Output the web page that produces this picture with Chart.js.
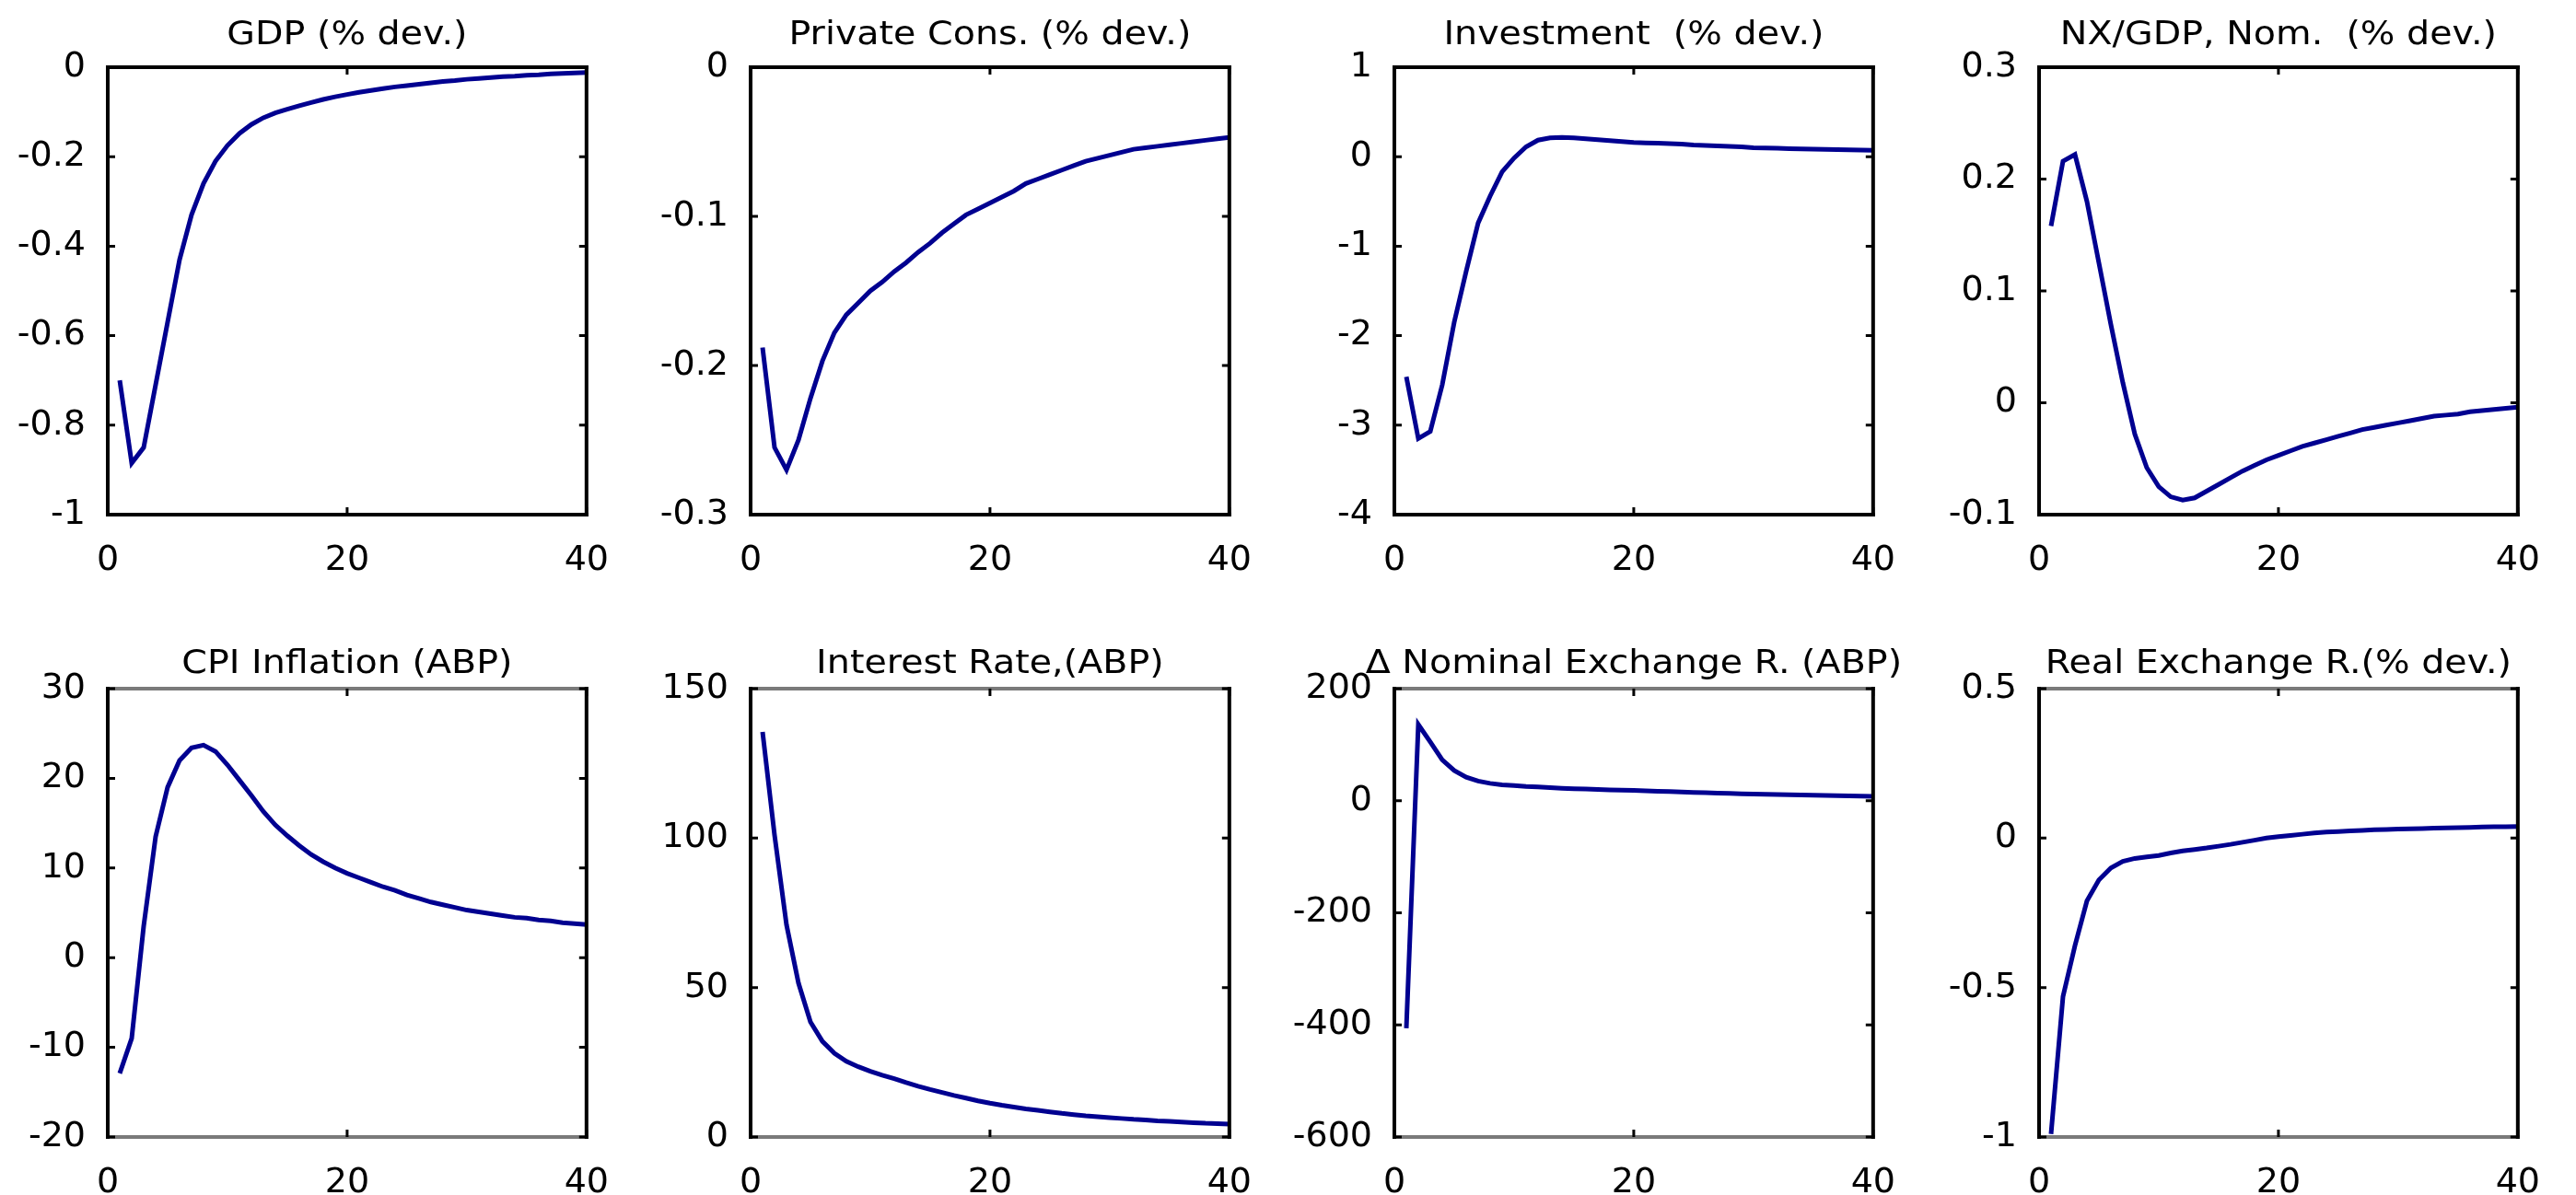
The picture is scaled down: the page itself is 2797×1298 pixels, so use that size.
<!DOCTYPE html>
<html>
<head>
<meta charset="utf-8">
<script src="https://cdn.jsdelivr.net/npm/chart.js@4.4.1/dist/chart.umd.min.js"></script>
<style>
  html, body { margin: 0; padding: 0; background: #fff; }
  #stage { position: relative; width: 2797px; height: 1298px; overflow: hidden; }
  .panel { position: absolute; }
</style>
</head>
<body>
<div id="stage"></div>
<script>
// quarters after the shock
const periods = [1, 2, 3, 4, 5, 6, 7, 8, 9, 10, 11, 12, 13, 14, 15, 16, 17, 18, 19, 20,
  21, 22, 23, 24, 25, 26, 27, 28, 29, 30, 31, 32, 33, 34, 35, 36, 37, 38, 39, 40];

const titles = [
  "GDP (% dev.)",
  "Private Cons. (% dev.)",
  "Investment  (% dev.)",
  "NX/GDP, Nom.  (% dev.)",
  "CPI Inflation (ABP)",
  "Interest Rate,(ABP)",
  "\u0394 Nominal Exchange R. (ABP)",
  "Real Exchange R.(% dev.)",
];

const gdp = [-0.70, -0.885, -0.85, -0.71, -0.57, -0.43, -0.33, -0.26, -0.21, -0.175,
  -0.148, -0.128, -0.113, -0.102, -0.094, -0.086, -0.079, -0.072, -0.066, -0.061,
  -0.056, -0.052, -0.048, -0.044, -0.041, -0.038, -0.035, -0.032, -0.030, -0.027,
  -0.025, -0.023, -0.021, -0.020, -0.018, -0.017, -0.015, -0.014, -0.013, -0.012];

const privCons = [-0.188, -0.255, -0.27, -0.25, -0.222, -0.197, -0.178, -0.166, -0.158, -0.150,
  -0.144, -0.137, -0.131, -0.124, -0.118, -0.111, -0.105, -0.099, -0.095, -0.091,
  -0.087, -0.083, -0.078, -0.075, -0.072, -0.069, -0.066, -0.063, -0.061, -0.059,
  -0.057, -0.055, -0.054, -0.053, -0.052, -0.051, -0.050, -0.049, -0.048, -0.047];

const investment = [-2.46, -3.15, -3.07, -2.55, -1.85, -1.28, -0.74, -0.44, -0.17, -0.015,
  0.11, 0.185, 0.21, 0.215, 0.21, 0.20, 0.19, 0.18, 0.17, 0.16,
  0.155, 0.15, 0.145, 0.14, 0.13, 0.125, 0.12, 0.115, 0.11, 0.10,
  0.097, 0.094, 0.09, 0.087, 0.085, 0.082, 0.08, 0.077, 0.075, 0.072];

const nxGdp = [0.158, 0.216, 0.222, 0.18, 0.125, 0.07, 0.018, -0.028, -0.058, -0.075,
  -0.084, -0.087, -0.085, -0.079, -0.073, -0.067, -0.061, -0.056, -0.051, -0.047,
  -0.043, -0.039, -0.036, -0.033, -0.030, -0.027, -0.024, -0.022, -0.020, -0.018,
  -0.016, -0.014, -0.012, -0.011, -0.010, -0.008, -0.007, -0.006, -0.005, -0.004];

const cpiInfl = [-12.9, -9.0, 3.5, 13.5, 19.0, 22.0, 23.4, 23.7, 23.0, 21.5,
  19.8, 18.1, 16.3, 14.8, 13.6, 12.5, 11.5, 10.7, 10.0, 9.4,
  8.9, 8.4, 7.9, 7.5, 7.0, 6.6, 6.2, 5.9, 5.6, 5.3,
  5.1, 4.9, 4.7, 4.5, 4.4, 4.2, 4.1, 3.9, 3.8, 3.7];

const interestRate = [135.5, 101, 71, 51.5, 38.5, 32, 28, 25.3, 23.5, 22.0,
  20.7, 19.5, 18.2, 17.0, 15.9, 14.9, 13.9, 13.0, 12.1, 11.3,
  10.6, 10.0, 9.4, 8.9, 8.4, 7.9, 7.5, 7.1, 6.8, 6.5,
  6.2, 5.9, 5.7, 5.4, 5.2, 5.0, 4.8, 4.6, 4.5, 4.3];

const nomExch = [-406, 136, 105, 73, 54, 42, 35, 31, 28.5, 27,
  25.5, 24.5, 23.3, 22.3, 21.5, 20.8, 20.1, 19.4, 18.8, 18.3,
  17.6, 17.0, 16.3, 15.6, 14.8, 14.2, 13.6, 13.0, 12.4, 11.8,
  11.4, 11.0, 10.6, 10.2, 9.7, 9.3, 8.9, 8.5, 8.1, 7.7];

const realExch = [-0.99, -0.53, -0.36, -0.21, -0.14, -0.10, -0.078, -0.068, -0.063, -0.058,
  -0.050, -0.043, -0.038, -0.033, -0.027, -0.021, -0.014, -0.007, 0.000, 0.005,
  0.009, 0.013, 0.017, 0.020, 0.022, 0.024, 0.026, 0.028, 0.029, 0.030,
  0.031, 0.032, 0.033, 0.034, 0.035, 0.036, 0.037, 0.038, 0.038, 0.039];

const series = [gdp, privCons, investment, nxGdp, cpiInfl, interestRate, nomExch, realExch];

// y-axis limits and tick steps, panel by panel
const yMins = [-1, -0.3, -4, -0.1, -20, 0, -600, -1];
const yMaxs = [0, 0, 1, 0.3, 30, 150, 200, 0.5];
const ySteps = [0.2, 0.1, 1, 0.1, 10, 50, 200, 0.5];
const xTicks = [0, 20, 40];

// plot-box geometry (px)
const boxLefts = [117, 815, 1514, 2214];
const boxW = 531;
const rowTops = [73, 748];
const rowBottoms = [559, 1235];
const titleGaps = [25, 17];
const hEdgeColors = ["#000", "#7a7a7a"];

const FONT = '"DejaVu Sans", "Liberation Sans", Arial, sans-serif';
const LINE_COLOR = "#000090";

const fmt = (v) => String(+(+v).toFixed(3));

const framePlugin = {
  id: "frame",
  afterDraw(chart, args, opts) {
    const { ctx, chartArea: a, scales } = chart;
    ctx.save();
    ctx.lineWidth = 4;
    ctx.lineCap = "square";
    // horizontal edges
    ctx.strokeStyle = opts.hColor;
    ctx.beginPath();
    ctx.moveTo(a.left, a.top);
    ctx.lineTo(a.right, a.top);
    ctx.moveTo(a.left, a.bottom);
    ctx.lineTo(a.right, a.bottom);
    ctx.stroke();
    // vertical edges
    ctx.strokeStyle = "#000";
    ctx.beginPath();
    ctx.moveTo(a.left, a.top);
    ctx.lineTo(a.left, a.bottom);
    ctx.moveTo(a.right, a.top);
    ctx.lineTo(a.right, a.bottom);
    ctx.stroke();

    // inward tick marks on all four sides
    const tl = 8;
    ctx.lineWidth = 3;
    ctx.lineCap = "butt";
    ctx.beginPath();
    scales.y.ticks.forEach((t) => {
      const py = scales.y.getPixelForValue(t.value);
      ctx.moveTo(a.left, py);
      ctx.lineTo(a.left + tl, py);
      ctx.moveTo(a.right, py);
      ctx.lineTo(a.right - tl, py);
    });
    scales.x.ticks.forEach((t) => {
      const px = scales.x.getPixelForValue(t.value);
      ctx.moveTo(px, a.top);
      ctx.lineTo(px, a.top + tl);
      ctx.moveTo(px, a.bottom);
      ctx.lineTo(px, a.bottom - tl);
    });
    ctx.stroke();

    // panel title, centred over the plot box
    ctx.fillStyle = "#000";
    ctx.font = "36px " + FONT;
    ctx.textAlign = "center";
    ctx.textBaseline = "alphabetic";
    ctx.translate((a.left + a.right) / 2, a.top - opts.gap);
    ctx.scale(1.1, 1);
    ctx.fillText(opts.text, 0, 0);
    ctx.restore();
  },
};

const stage = document.getElementById("stage");

series.forEach((values, i) => {
  const row = Math.floor(i / 4);
  const col = i % 4;
  const padL = 10, yAxisW = 120, padR = 40, padT = 73, xAxisH = 85;
  const boxTop = rowTops[row];
  const boxH = rowBottoms[row] - rowTops[row];
  const left = boxLefts[col] - padL - yAxisW;
  const top = boxTop - padT;
  const width = padL + yAxisW + boxW + padR;
  const height = padT + boxH + xAxisH;

  const wrap = document.createElement("div");
  wrap.className = "panel";
  wrap.style.left = left + "px";
  wrap.style.top = top + "px";
  wrap.style.width = width + "px";
  wrap.style.height = height + "px";
  const canvas = document.createElement("canvas");
  canvas.width = width;
  canvas.height = height;
  wrap.appendChild(canvas);
  stage.appendChild(wrap);

  new Chart(canvas.getContext("2d"), {
    type: "line",
    data: {
      datasets: [
        {
          data: periods.map((p, k) => ({ x: p, y: values[k] })),
          borderColor: LINE_COLOR,
          borderWidth: 5,
          pointRadius: 0,
          tension: 0,
          fill: false,
        },
      ],
    },
    options: {
      responsive: false,
      animation: false,
      devicePixelRatio: 1,
      layout: { padding: { left: padL, top: padT, right: padR, bottom: 0 } },
      plugins: {
        legend: { display: false },
        tooltip: { enabled: false },
        frame: { text: titles[i], gap: titleGaps[row], hColor: hEdgeColors[row] },
      },
      scales: {
        x: {
          type: "linear",
          min: 0,
          max: 40,
          afterBuildTicks: (scale) => {
            scale.ticks = xTicks.map((v) => ({ value: v }));
          },
          afterFit: (scale) => {
            scale.height = xAxisH;
          },
          grid: { display: false, drawTicks: false },
          border: { display: false },
          ticks: {
            color: "#000",
            font: { family: FONT, size: 38 },
            padding: 27,
            maxRotation: 0,
            autoSkip: false,
            callback: fmt,
          },
        },
        y: {
          min: yMins[i],
          max: yMaxs[i],
          afterFit: (scale) => {
            scale.width = yAxisW;
          },
          grid: { display: false, drawTicks: false },
          border: { display: false },
          ticks: {
            stepSize: ySteps[i],
            color: "#000",
            font: { family: FONT, size: 38 },
            padding: 24,
            autoSkip: false,
            callback: fmt,
          },
        },
      },
    },
    plugins: [framePlugin],
  });
});
</script>
</body>
</html>
